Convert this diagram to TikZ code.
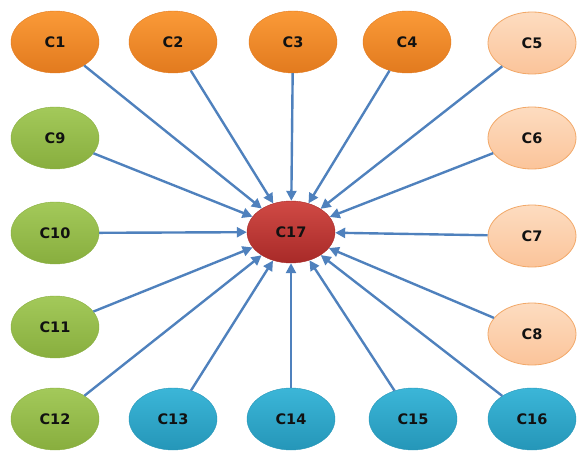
\documentclass[tikz,border=0pt]{standalone}
\usepackage{fontspec}
\setmainfont{DejaVu Sans}
\usetikzlibrary{shapes.geometric,arrows.meta}
\definecolor{arrowblue}{HTML}{4F81BD}
\definecolor{txt}{HTML}{111111}
\definecolor{HTML1}{HTML}{FDDCC0}
\definecolor{HTML2}{HTML}{FBC49A}
\definecolor{HTMLb}{HTML}{F2A868}
\definecolor{HTMLg1}{HTML}{A3C95A}
\definecolor{HTMLg2}{HTML}{88AE3E}
\definecolor{HTMLb1}{HTML}{3BB6D8}
\definecolor{HTMLb2}{HTML}{2596B8}
\definecolor{HTMLr1}{HTML}{D04A45}
\definecolor{HTMLr2}{HTML}{A82A28}
\definecolor{HTMLo1}{HTML}{FA9A38}
\definecolor{HTMLo2}{HTML}{E27A1E}
\tikzset{
  cnode/.style={ellipse, minimum width=88pt, minimum height=62pt, inner sep=0pt,
    font=\bfseries\fontsize{14.5}{16}\selectfont, text=txt},
  orangeN/.style={cnode, top color=HTMLo1, bottom color=HTMLo2, draw=HTMLo2, line width=0.4pt},
  peachN/.style={cnode, top color=HTML1, bottom color=HTML2, draw=HTMLb, line width=0.8pt},
  greenN/.style={cnode, top color=HTMLg1, bottom color=HTMLg2, draw=HTMLg2, line width=0.4pt},
  blueN/.style={cnode, top color=HTMLb1, bottom color=HTMLb2, draw=HTMLb2, line width=0.4pt},
  redN/.style={cnode, top color=HTMLr1, bottom color=HTMLr2, draw=HTMLr2, line width=0.4pt},
  conn/.style={arrowblue, line width=2.4pt, -{Triangle[length=10pt,width=10pt]}},
}
\begin{document}
\begin{tikzpicture}[x=1pt,y=-1pt]
\useasboundingbox (0,0) rectangle (578,452);
\node[orangeN] (c1) at (55,42) {C1};
\node[orangeN] (c2) at (173,42) {C2};
\node[orangeN] (c3) at (293,42) {C3};
\node[orangeN] (c4) at (407,42) {C4};
\node[peachN] (c5) at (532,43) {C5};
\node[peachN] (c6) at (532,138) {C6};
\node[peachN] (c7) at (532,236) {C7};
\node[peachN] (c8) at (532,334) {C8};
\node[greenN] (c9) at (55,138) {C9};
\node[greenN] (c10) at (55,233) {C10};
\node[greenN] (c11) at (55,327) {C11};
\node[greenN] (c12) at (55,419) {C12};
\node[blueN] (c13) at (173,419) {C13};
\node[blueN] (c14) at (291,419) {C14};
\node[blueN] (c15) at (413,419) {C15};
\node[blueN] (c16) at (532,419) {C16};
\node[redN] (c17) at (291,232) {C17};
\foreach \n in {1,...,16}{
  \draw[conn] (c\n) -- (c17);
}
\end{tikzpicture}
\end{document}
